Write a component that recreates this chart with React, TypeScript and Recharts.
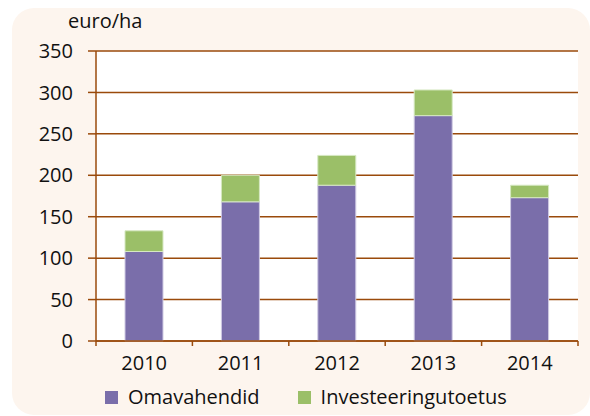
import React from 'react';
import { BarChart, Bar, XAxis, YAxis, CartesianGrid } from 'recharts';

const years = ['2010', '2011', '2012', '2013', '2014'];
const omavahendid = [108, 168, 188, 272, 173];
const investeeringutoetus = [25, 32, 36, 31, 15];
const yTicks = [0, 50, 100, 150, 200, 250, 300, 350];

const data = years.map((y, i) => ({
  year: y,
  omavahendid: omavahendid[i],
  investeeringutoetus: investeeringutoetus[i],
}));

const W = 590;
const H = 416;
const X_H = 30;
const MARGIN = { top: 51, right: 12, bottom: 75 - X_H, left: 0 };
const Y_W = 96;
const BROWN = '#9A4A0B';
const PURPLE = '#7A6EAA';
const GREEN = '#9BBF68';
const FONT = '"Open Sans", "Noto Sans", sans-serif';

const plotW = W - MARGIN.left - Y_W - MARGIN.right;
const half = plotW / years.length / 2;

const XTick = (props: any) => {
  const { x, y, payload, index } = props;
  return (
    <g>
      <line x1={x - half} x2={x - half} y1={y} y2={y + 5} stroke={BROWN} strokeWidth={1.5} />
      {index === years.length - 1 && (
        <line x1={x + half} x2={x + half} y1={y} y2={y + 5} stroke={BROWN} strokeWidth={1.5} />
      )}
      <text x={x} y={y + 15} dy="0.71em" textAnchor="middle" fill="#111" fontSize={20} fontFamily={FONT}>
        {payload.value}
      </text>
    </g>
  );
};

export default function App() {
  return (
    <div style={{ position: 'absolute', left: 0, top: 0, width: W, height: H, background: '#fff', fontFamily: FONT }}>
      <div
        style={{
          position: 'absolute',
          left: 12,
          top: 8,
          width: 578,
          height: 407,
          background: '#FDF5EE',
          borderRadius: 22,
        }}
      />
      <div style={{ position: 'absolute', left: 0, top: 0 }}>
        <BarChart width={W} height={H} data={data} margin={MARGIN} barSize={38}>
          <CartesianGrid fill="#ffffff" vertical={false} stroke={BROWN} strokeWidth={1.5} yAxisId="left" />
          <XAxis
            dataKey="year"
            height={X_H}
            tick={<XTick />}
            tickLine={false}
            tickSize={0}
            tickMargin={0}
            axisLine={{ stroke: BROWN, strokeWidth: 1.5 }}
            interval={0}
          />
          <YAxis
            yAxisId="left"
            width={Y_W}
            domain={[0, 350]}
            ticks={yTicks}
            interval={0}
            tickSize={8}
            tickMargin={15}
            tick={{ fill: '#111', fontSize: 20, fontFamily: FONT }}
            tickLine={{ stroke: BROWN, strokeWidth: 1.5 }}
            axisLine={{ stroke: BROWN, strokeWidth: 1.5 }}
          />
          <YAxis
            yAxisId="right"
            orientation="right"
            width={0}
            domain={[0, 350]}
            tick={false}
            tickLine={false}
            axisLine={{ stroke: BROWN, strokeWidth: 1.5 }}
          />
          <Bar
            yAxisId="left"
            dataKey="omavahendid"
            stackId="a"
            fill={PURPLE}
            stroke="#CFCAE3"
            strokeWidth={1}
            isAnimationActive={false}
          />
          <Bar
            yAxisId="left"
            dataKey="investeeringutoetus"
            stackId="a"
            fill={GREEN}
            stroke="#D6E8C2"
            strokeWidth={1}
            isAnimationActive={false}
          />
        </BarChart>
      </div>
      <div
        style={{
          position: 'absolute',
          left: 68,
          top: 11,
          fontSize: 20,
          lineHeight: '20px',
          color: '#111',
          whiteSpace: 'nowrap',
        }}
      >
        euro/ha
      </div>
      <div
        style={{
          position: 'absolute',
          left: 105,
          top: 387,
          display: 'flex',
          alignItems: 'center',
          fontSize: 20,
          lineHeight: '20px',
          color: '#111',
          whiteSpace: 'nowrap',
        }}
      >
        <span style={{ display: 'inline-block', width: 13, height: 13, background: PURPLE, marginRight: 10 }} />
        <span style={{ marginRight: 38 }}>Omavahendid</span>
        <span style={{ display: 'inline-block', width: 13, height: 13, background: GREEN, marginRight: 10 }} />
        <span>Investeeringutoetus</span>
      </div>
    </div>
  );
}
